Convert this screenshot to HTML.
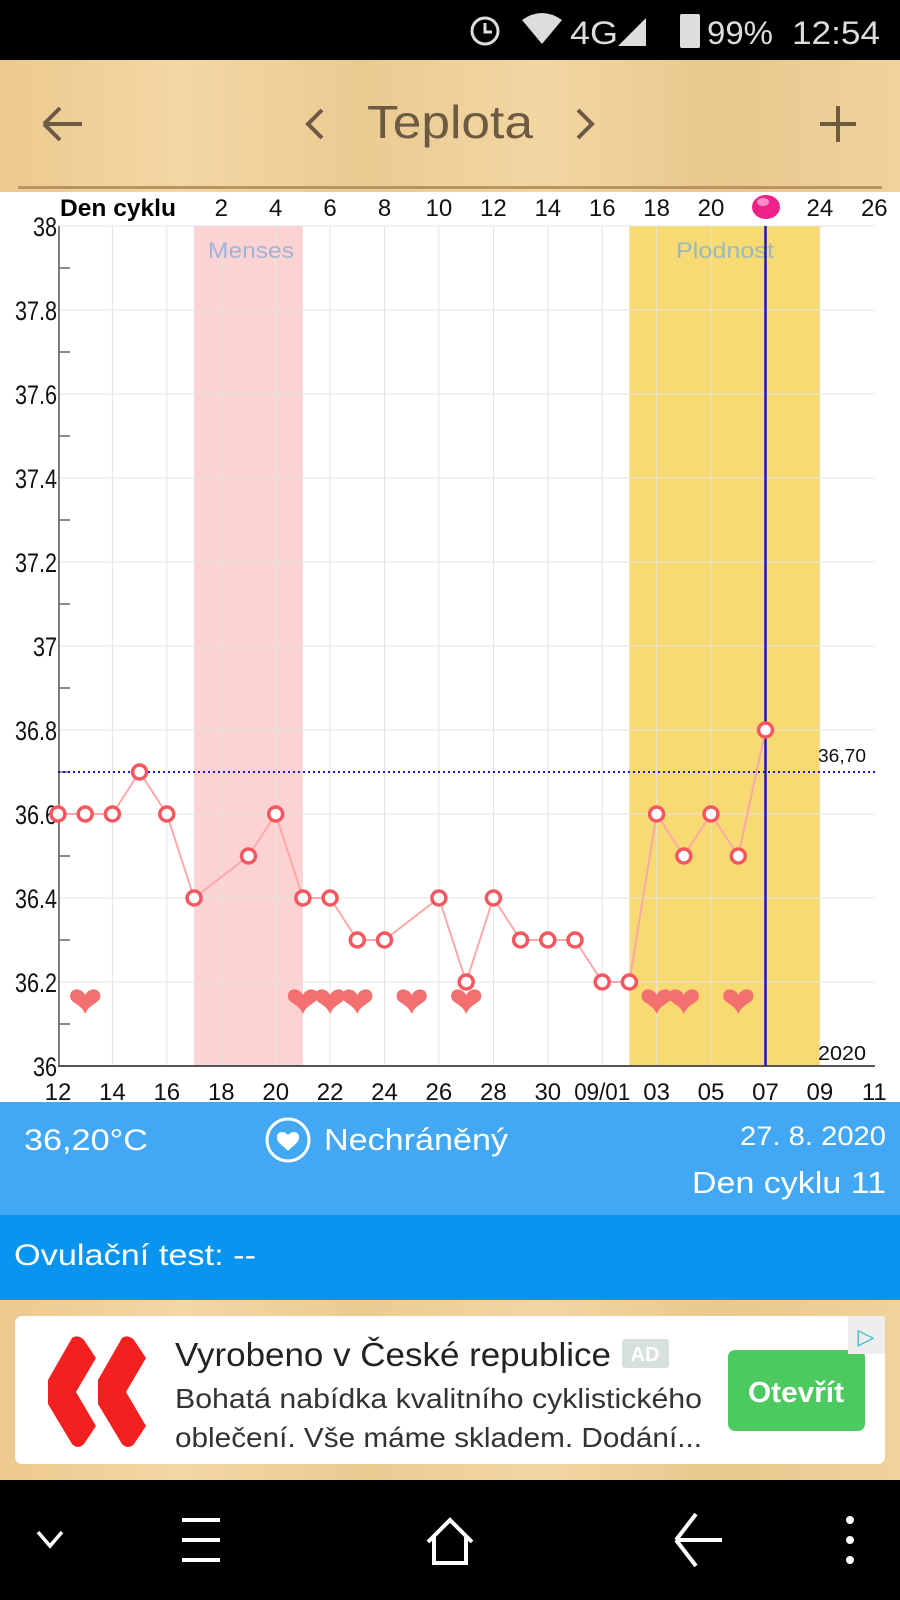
<!DOCTYPE html>
<html><head><meta charset="utf-8"><style>
html,body{margin:0;padding:0;width:900px;height:1600px;overflow:hidden;background:#fff}
svg{display:block}
text{font-family:"Liberation Sans",sans-serif}
</style></head><body>
<svg width="900" height="1600" viewBox="0 0 900 1600" xmlns="http://www.w3.org/2000/svg">
<defs>
<linearGradient id="wood" x1="0" x2="1" y1="0" y2="0">
<stop offset="0" stop-color="#ecc98f"/><stop offset="0.2" stop-color="#f3d7a4"/><stop offset="0.4" stop-color="#eacb92"/><stop offset="0.6" stop-color="#f2d6a2"/><stop offset="0.8" stop-color="#e9c88e"/><stop offset="1" stop-color="#f0d29c"/>
</linearGradient>
<g id="h"><path d="M0,10 C-5,-2 -16,0 -15,-9 C-14,-17 -3,-16 0,-9 C3,-16 14,-17 15,-9 C16,0 5,-2 0,10Z" fill="#f46f6f"/></g>
</defs>
<rect x="0" y="0" width="900" height="60" fill="#000"/>
<circle cx="485" cy="31" r="13" fill="none" stroke="#ddd" stroke-width="3"/>
<path d="M485,23 V32 H492" stroke="#ddd" stroke-width="3" fill="none"/>
<path d="M522,20 Q542,6 562,20 L542,44Z" fill="#ddd"/>
<text x="570" y="44" font-size="32" fill="#ddd" textLength="48" lengthAdjust="spacingAndGlyphs">4G</text>
<path d="M618,46 L646,18 V46Z" fill="#ddd"/>
<rect x="680" y="14" width="20" height="34" rx="2" fill="#ddd"/>
<text x="707" y="44" font-size="32" fill="#ddd" textLength="66" lengthAdjust="spacingAndGlyphs">99%</text>
<text x="792" y="44" font-size="32" fill="#ddd" textLength="88" lengthAdjust="spacingAndGlyphs">12:54</text>
<rect x="0" y="60" width="900" height="132" fill="url(#wood)"/>
<rect x="18" y="186" width="864" height="3" fill="#b89460"/>
<path d="M44,124 H82 M44,124 L60,108 M44,124 L60,140" stroke="#6d5a43" stroke-width="4" fill="none"/>
<path d="M322,110 L308,124 L322,138" stroke="#6d5a43" stroke-width="4" fill="none"/>
<text x="367" y="138" font-size="46" fill="#6d5a43" textLength="166" lengthAdjust="spacingAndGlyphs">Teplota</text>
<path d="M578,110 L592,124 L578,138" stroke="#6d5a43" stroke-width="4" fill="none"/>
<path d="M838,106 V142 M820,124 H856" stroke="#6d5a43" stroke-width="4"/>
<rect x="0" y="192" width="900" height="908" fill="#fff"/>
<rect x="194.1" y="226" width="108.8" height="840" fill="#fdd2d2"/>
<rect x="629.4" y="226" width="190.5" height="840" fill="#f8da72"/>
<g stroke="#e4e4e4" stroke-width="1">
<line x1="112.4" y1="226" x2="112.4" y2="1066"/><line x1="166.8" y1="226" x2="166.8" y2="1066"/><line x1="221.3" y1="226" x2="221.3" y2="1066"/><line x1="275.7" y1="226" x2="275.7" y2="1066"/><line x1="330.1" y1="226" x2="330.1" y2="1066"/><line x1="384.5" y1="226" x2="384.5" y2="1066"/><line x1="438.9" y1="226" x2="438.9" y2="1066"/><line x1="493.4" y1="226" x2="493.4" y2="1066"/><line x1="547.8" y1="226" x2="547.8" y2="1066"/><line x1="602.2" y1="226" x2="602.2" y2="1066"/><line x1="656.6" y1="226" x2="656.6" y2="1066"/><line x1="711.0" y1="226" x2="711.0" y2="1066"/><line x1="765.5" y1="226" x2="765.5" y2="1066"/><line x1="819.9" y1="226" x2="819.9" y2="1066"/>
<line x1="58" y1="226" x2="875" y2="226"/><line x1="58" y1="310" x2="875" y2="310"/><line x1="58" y1="394" x2="875" y2="394"/><line x1="58" y1="478" x2="875" y2="478"/><line x1="58" y1="562" x2="875" y2="562"/><line x1="58" y1="646" x2="875" y2="646"/><line x1="58" y1="730" x2="875" y2="730"/><line x1="58" y1="814" x2="875" y2="814"/><line x1="58" y1="898" x2="875" y2="898"/><line x1="58" y1="982" x2="875" y2="982"/>
</g>
<text x="251" y="258" font-size="22" fill="#9fb4d8" text-anchor="middle" textLength="86" lengthAdjust="spacingAndGlyphs">Menses</text>
<text x="725" y="258" font-size="22" fill="#98b9c0" text-anchor="middle" textLength="98" lengthAdjust="spacingAndGlyphs">Plodnost</text>
<line x1="59" y1="226" x2="59" y2="1066" stroke="#555" stroke-width="1.5"/>
<line x1="58" y1="1066" x2="875" y2="1066" stroke="#555" stroke-width="2"/>
<g stroke="#666" stroke-width="1.5">
<line x1="59" y1="268" x2="70" y2="268"/><line x1="59" y1="352" x2="70" y2="352"/><line x1="59" y1="436" x2="70" y2="436"/><line x1="59" y1="520" x2="70" y2="520"/><line x1="59" y1="604" x2="70" y2="604"/><line x1="59" y1="688" x2="70" y2="688"/><line x1="59" y1="772" x2="70" y2="772"/><line x1="59" y1="856" x2="70" y2="856"/><line x1="59" y1="940" x2="70" y2="940"/><line x1="59" y1="1024" x2="70" y2="1024"/>
</g>
<g font-size="27" fill="#111" transform="translate(57,0) scale(0.8,1) translate(-57,0)" text-anchor="end">
<text x="57" y="236">38</text><text x="57" y="320">37.8</text><text x="57" y="404">37.6</text><text x="57" y="488">37.4</text><text x="57" y="572">37.2</text><text x="57" y="656">37</text><text x="57" y="740">36.8</text><text x="57" y="824">36.6</text><text x="57" y="908">36.4</text><text x="57" y="992">36.2</text><text x="57" y="1076">36</text>
</g>
<g font-size="24" fill="#111" text-anchor="middle">
<text x="58" y="1100">12</text><text x="112.4" y="1100">14</text><text x="166.8" y="1100">16</text><text x="221.3" y="1100">18</text><text x="275.7" y="1100">20</text><text x="330.1" y="1100">22</text><text x="384.5" y="1100">24</text><text x="438.9" y="1100">26</text><text x="493.4" y="1100">28</text><text x="547.8" y="1100">30</text><text x="602.2" y="1100" textLength="56" lengthAdjust="spacingAndGlyphs">09/01</text><text x="656.6" y="1100">03</text><text x="711.0" y="1100">05</text><text x="765.5" y="1100">07</text><text x="819.9" y="1100">09</text><text x="874.3" y="1100">11</text>
<text x="221.3" y="216">2</text><text x="275.7" y="216">4</text><text x="330.1" y="216">6</text><text x="384.5" y="216">8</text><text x="438.9" y="216">10</text><text x="493.4" y="216">12</text><text x="547.8" y="216">14</text><text x="602.2" y="216">16</text><text x="656.6" y="216">18</text><text x="711.0" y="216">20</text><text x="819.9" y="216">24</text><text x="874.3" y="216">26</text>
</g>
<text x="60" y="216" font-size="24" font-weight="bold" fill="#000" textLength="116" lengthAdjust="spacingAndGlyphs">Den cyklu</text>
<ellipse cx="766" cy="207" rx="14" ry="12" fill="#f0228a"/>
<ellipse cx="763" cy="202" rx="6" ry="4" fill="#ff8cc4"/>
<text x="866" y="1060" font-size="20" fill="#111" text-anchor="end" textLength="48" lengthAdjust="spacingAndGlyphs">2020</text>
<line x1="58" y1="772" x2="875" y2="772" stroke="#1a1acc" stroke-width="2" stroke-dasharray="2,3"/>
<text x="866" y="762" font-size="18" fill="#111" text-anchor="end" textLength="48" lengthAdjust="spacingAndGlyphs">36,70</text>
<line x1="765.5" y1="226" x2="765.5" y2="1066" stroke="#1a1ab8" stroke-width="2.5"/>
<g fill="none" stroke="#fca8a8" stroke-width="2">
<polyline points="58,814 85.2,814 112.4,814 139.6,772 166.8,814 194.1,898 248.5,856 275.7,814 302.9,898 330.1,898 357.3,940 384.5,940 438.9,898 466.2,982 493.4,898 520.6,940 547.8,940 575,940 602.2,982 629.4,982 656.6,814 683.8,856 711,814 738.3,856 765.5,730"/>
</g>
<g fill="#fff" stroke="#f4575f" stroke-width="3.5">
<circle cx="58" cy="814" r="7"/><circle cx="85.2" cy="814" r="7"/><circle cx="112.4" cy="814" r="7"/><circle cx="139.6" cy="772" r="7"/><circle cx="166.8" cy="814" r="7"/><circle cx="194.1" cy="898" r="7"/><circle cx="248.5" cy="856" r="7"/><circle cx="275.7" cy="814" r="7"/><circle cx="302.9" cy="898" r="7"/><circle cx="330.1" cy="898" r="7"/><circle cx="357.3" cy="940" r="7"/><circle cx="384.5" cy="940" r="7"/><circle cx="438.9" cy="898" r="7"/><circle cx="466.2" cy="982" r="7"/><circle cx="493.4" cy="898" r="7"/><circle cx="520.6" cy="940" r="7"/><circle cx="547.8" cy="940" r="7"/><circle cx="575" cy="940" r="7"/><circle cx="602.2" cy="982" r="7"/><circle cx="629.4" cy="982" r="7"/><circle cx="656.6" cy="814" r="7"/><circle cx="683.8" cy="856" r="7"/><circle cx="711" cy="814" r="7"/><circle cx="738.3" cy="856" r="7"/><circle cx="765.5" cy="730" r="7"/>
</g>
<use href="#h" x="85.2" y="1004"/><use href="#h" x="302.9" y="1004"/><use href="#h" x="330.1" y="1004"/><use href="#h" x="357.3" y="1004"/><use href="#h" x="411.7" y="1004"/><use href="#h" x="466.2" y="1004"/><use href="#h" x="656.6" y="1004"/><use href="#h" x="683.8" y="1004"/><use href="#h" x="738.3" y="1004"/>
<rect x="0" y="1102" width="900" height="113" fill="#42a8f4"/>
<text x="24" y="1150" font-size="30" fill="#fff" textLength="124" lengthAdjust="spacingAndGlyphs">36,20°C</text>
<circle cx="288" cy="1140" r="21" fill="none" stroke="#fff" stroke-width="3"/>
<path d="M288,1151 C284,1146 276,1143 277,1136 C278,1131 285,1131 288,1135 C291,1131 298,1131 299,1136 C300,1143 292,1146 288,1151Z" fill="#fff"/>
<text x="324" y="1150" font-size="31" fill="#fff" textLength="184" lengthAdjust="spacingAndGlyphs">Nechráněný</text>
<text x="886" y="1145" font-size="27" fill="#fff" text-anchor="end" textLength="146" lengthAdjust="spacingAndGlyphs">27. 8. 2020</text>
<text x="886" y="1193" font-size="31" fill="#fff" text-anchor="end" textLength="194" lengthAdjust="spacingAndGlyphs">Den cyklu 11</text>
<rect x="0" y="1215" width="900" height="85" fill="#0994f0"/>
<text x="14" y="1265" font-size="30" fill="#fff" textLength="242" lengthAdjust="spacingAndGlyphs">Ovulační test: --</text>
<rect x="0" y="1300" width="900" height="180" fill="url(#wood)"/>
<rect x="15" y="1316" width="870" height="148" rx="7" fill="#fff"/>
<path d="M72,1338 Q78,1334 84,1340 L96,1358 L76,1392 L96,1426 L84,1444 Q78,1450 72,1444 L48,1404 L48,1380Z" fill="#f2211f"/>
<path d="M122,1338 Q128,1334 134,1340 L146,1358 L126,1392 L146,1426 L134,1444 Q128,1450 122,1444 L98,1404 L98,1380Z" fill="#f2211f"/>
<text x="175" y="1366" font-size="33" fill="#222" textLength="436" lengthAdjust="spacingAndGlyphs">Vyrobeno v České republice</text>
<rect x="622" y="1339" width="47" height="29" rx="3" fill="#d7e1dc"/>
<text x="645" y="1361" font-size="20" fill="#fff" text-anchor="middle" font-weight="bold">AD</text>
<text x="175" y="1408" font-size="28" fill="#333" textLength="527" lengthAdjust="spacingAndGlyphs">Bohatá nabídka kvalitního cyklistického</text>
<text x="175" y="1447" font-size="28" fill="#333" textLength="527" lengthAdjust="spacingAndGlyphs">oblečení. Vše máme skladem. Dodání...</text>
<rect x="728" y="1350" width="137" height="81" rx="7" fill="#4cc95f"/>
<text x="796" y="1402" font-size="29" fill="#fff" text-anchor="middle" font-weight="bold" textLength="96" lengthAdjust="spacingAndGlyphs">Otevřít</text>
<rect x="848" y="1316" width="37" height="38" fill="#eee"/>
<text x="866" y="1344" font-size="22" fill="#2bb7d3" text-anchor="middle">▷</text>
<rect x="0" y="1480" width="900" height="120" fill="#000"/>
<path d="M38,1532 L50,1546 L62,1532" stroke="#fff" stroke-width="3.5" fill="none"/>
<path d="M182,1520 H220 M182,1540 H220 M182,1560 H220" stroke="#fff" stroke-width="4"/>
<path d="M428,1542 L450,1520 L472,1542 M434,1536 V1563 H466 V1536" stroke="#fff" stroke-width="4" fill="none"/>
<path d="M676,1540 H722 M676,1540 L696,1514 M676,1540 L696,1566" stroke="#fff" stroke-width="4" fill="none"/>
<circle cx="850" cy="1520" r="4" fill="#fff"/><circle cx="850" cy="1540" r="4" fill="#fff"/><circle cx="850" cy="1560" r="4" fill="#fff"/>
</svg>
</body></html>
